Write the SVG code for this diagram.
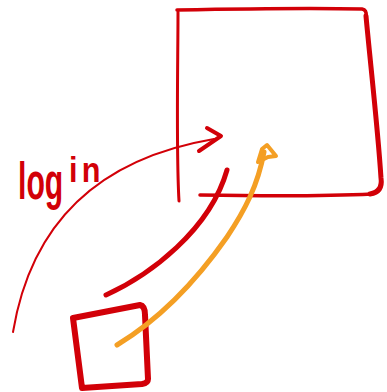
<svg xmlns="http://www.w3.org/2000/svg" width="387" height="392" viewBox="0 0 387 392">
<style>
.red{fill:none;stroke:#D20008;stroke-linecap:round;stroke-linejoin:round}
.or{fill:none;stroke:#F49F24;stroke-linecap:round;stroke-linejoin:round}
.lbl{fill:#D20008;font-family:"Liberation Sans",Arial,sans-serif;font-weight:bold}
</style>
<rect width="387" height="392" fill="#fff"/>
<g id="big-box">
<path class="red" stroke-width="3" d="M178,12 C178,60 176,150 179,201"/>
<path class="red" stroke-width="3.5" d="M177,10 C230,9 320,8 362,9 Q367,10 366,16"/>
<path class="red" stroke-width="5" d="M366,16 C370,60 378,130 381,178 Q383,192 370,194"/>
<path class="red" stroke-width="3.5" d="M200,195 C260,196 330,196 372,194"/>
</g>
<g id="small-box">
<path class="red" stroke-width="6" d="M73,318 L140,305 Q145,306 145,315 L148,379 Q148,383 142,384 L82,388 Z"/>
</g>
<g id="label">
<text class="lbl" transform="translate(18,199) scale(0.58,1)" font-size="52">log</text>
<text class="lbl" transform="translate(69,182) scale(0.85,1)" font-size="36" letter-spacing="5">in</text>
</g>
<g id="connectors">
<path class="red" stroke-width="2" d="M13,332 C30,230 90,160 214,139"/>
<path class="red" stroke-width="4" d="M207,128 L221,136 L199,151"/>
<path class="red" stroke-width="5" d="M106,295 C150,275 210,230 227,170"/>
<path class="or" stroke-width="5" d="M117,345 C150,325 190,290 227,237 C245,210 258,185 264,152"/>
<path class="or" stroke-width="4" fill="#F49F24" d="M258,162 L262,149 L267,145 L276,156 L268,157 Z"/>
</g>
</svg>
